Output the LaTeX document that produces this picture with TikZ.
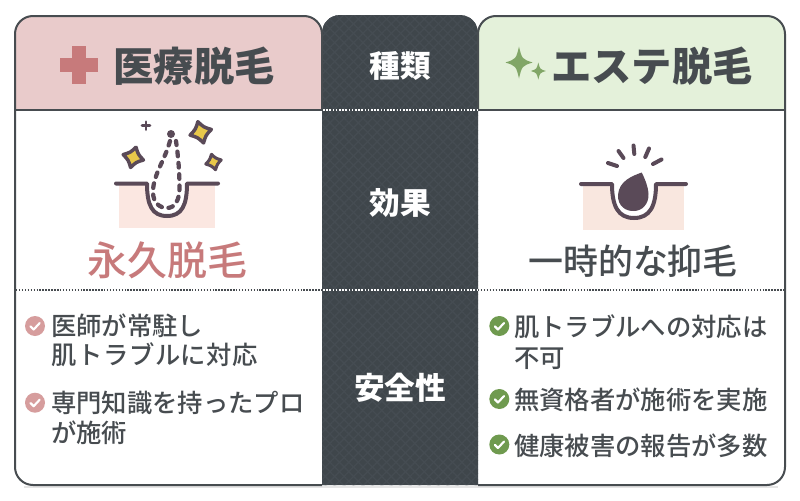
\documentclass[tikz,border=0pt]{standalone}
\usepackage{fontspec}
\setmainfont{Noto Sans CJK JP}
\newfontfamily\medf{Noto Sans CJK JP Medium}
\newfontfamily\medw[LetterSpace=2.4]{Noto Sans CJK JP Medium}
\usetikzlibrary{patterns.meta}
\definecolor{ink}{HTML}{474C50}
\definecolor{dark}{HTML}{3F464B}
\definecolor{darkl}{HTML}{454C52}
\definecolor{pinkbg}{HTML}{E9CBCB}
\definecolor{rose}{HTML}{C77A7B}
\definecolor{rosel}{HTML}{D69D9D}
\definecolor{greenbg}{HTML}{E4F1DA}
\definecolor{leaf}{HTML}{81A667}
\definecolor{okg}{HTML}{6F9A4F}
\definecolor{plum}{HTML}{5A4A58}
\definecolor{skin}{HTML}{FBE7E1}
\definecolor{skinr}{HTML}{F9E7DF}
\definecolor{gold}{HTML}{E8C84A}
\tikzset{
 body/.style={font=\fontsize{19}{20}\selectfont\medf,text=ink,anchor=base west,inner sep=0pt},
 side/.style={font=\fontsize{23}{24}\selectfont\bfseries,text=white,inner sep=0pt},
 head/.style={font=\fontsize{30.2}{31}\selectfont\bfseries,text=ink,inner sep=0pt},
 res/.style={inner sep=0pt},
 icon/.style={draw=plum,line width=3pt,line cap=round,line join=round},
 tick/.style={white,line width=1.6pt,line cap=round,line join=round},
 star/.style={draw=plum,line width=2.2pt,line join=round,fill=gold},
}
\newcommand{\sparkle}[5]{\path[#5] (#1,#2-#4) .. controls (#1+.22*#3,#2-.22*#4) .. (#1+#3,#2) .. controls (#1+.22*#3,#2+.22*#4) .. (#1,#2+#4) .. controls (#1-.22*#3,#2+.22*#4) .. (#1-#3,#2) .. controls (#1-.22*#3,#2-.22*#4) .. cycle;}
\newcommand{\fatstar}[2]{\path[#2] (0,-#1) .. controls (.38*#1,-.38*#1) .. (#1,0) .. controls (.38*#1,.38*#1) .. (0,#1) .. controls (-.38*#1,.38*#1) .. (-#1,0) .. controls (-.38*#1,-.38*#1) .. cycle;}
\newcommand{\tophat}[2]{(#1,109) -- (#1,34) arc[start angle=180,end angle=270,radius=18] -- (#2-18,16) arc[start angle=270,end angle=360,radius=18] -- (#2,109)}
\begin{document}
\begin{tikzpicture}[x=0.75pt,y=-0.75pt]
\useasboundingbox (0,0) rectangle (800,500);
% shadow
\draw[line width=1.5pt,color=black!10] (24,486.6) -- (778,486.6);
% panels
\fill[white] (15,109) -- (785,109) -- (785,467) arc[start angle=0,end angle=90,radius=18] -- (33,485) arc[start angle=90,end angle=180,radius=18] -- cycle;
\fill[pinkbg] \tophat{15}{322} -- cycle;
\fill[greenbg] \tophat{478}{785} -- cycle;
\def\midshape{(322,485) -- (322,33) arc[start angle=180,end angle=270,radius=18] -- (460,15) arc[start angle=270,end angle=360,radius=18] -- (478,485) -- cycle}
\path[fill=dark] \midshape;
\path[pattern={Lines[angle=45,distance=5pt,line width=1pt]},pattern color=darkl] \midshape;
\path[pattern={Lines[angle=-45,distance=5pt,line width=1pt]},pattern color=darkl] \midshape;
% outlines
\draw[ink,line width=1.5pt] (15,109) -- (15,467) arc[start angle=180,end angle=90,radius=18] -- (322,485);
\draw[ink,line width=1.5pt] \tophat{15}{322};
\draw[ink,line width=1.5pt] \tophat{478}{785};
\draw[ink,line width=1.5pt] (785,109) -- (785,467) arc[start angle=0,end angle=90,radius=18] -- (478,485);
\draw[ink,line width=1.5pt] (15,109.5) -- (322,109.5);
\draw[ink,line width=1.5pt] (478,109.5) -- (785,109.5);
% dotted rows
\draw[white,line width=1.2pt,dash pattern=on 1.2pt off 1.2pt] (323,110) -- (478,110);
\draw[white,line width=1.2pt,dash pattern=on 1.2pt off 1.2pt] (323,290) -- (478,290);
\draw[ink,line width=1pt,dash pattern=on 1.1pt off 1.1pt] (16,290) -- (322,290);
\draw[ink,line width=1pt,dash pattern=on 1.1pt off 1.1pt] (478,290) -- (785,290);
% header marks
\fill[rose] (72,46) rectangle (86,84);
\fill[rose] (60,58) rectangle (98,71.5);
\sparkle{519}{62.5}{13.5}{16}{fill=leaf}
\sparkle{538.3}{71}{7.5}{8.5}{fill=leaf}
% header text
\node[head,anchor=center] (tl) at (194,66) {医療脱毛};
\node[head,anchor=center] (tr) at (652,66) {エステ脱毛};
\node[side] (s1) at (400,66) {種類};
\node[side] (s2) at (400,203) {効果};
\node[side] (s3) at (400,388) {安全性};
% left icon
\fill[skin] (119,185) rectangle (215,228);
\fill[white] (149,184) .. controls (149,204) and (153,216) .. (167,216) .. controls (181,216) and (187,204) .. (187,184) -- cycle;
\path[icon] (116,183.5) -- (147,183.5) .. controls (147,205) and (152,216) .. (167,216) .. controls (182,216) and (187,205) .. (187,183.5) -- (218,183.5);
\fill[plum] (171,134) circle (4);
\path[icon,line width=3.2pt,line cap=round,dash pattern=on 3.5pt off 5pt] (170,141) .. controls (165,160) and (153,175) .. (153,192) .. controls (153,203) and (160,208) .. (167,208) .. controls (175,208) and (179.5,200) .. (179.5,188) .. controls (179.5,170) and (178,155) .. (176,141);
\begin{scope}[shift={(200.7,132.3)},rotate=15]\fatstar{11}{star,line width=2.6pt}\end{scope}
\begin{scope}[shift={(133.3,157.3)},rotate=-15]\fatstar{10.5}{star,line width=2.6pt}\end{scope}
\begin{scope}[shift={(213.5,162)},rotate=15]\fatstar{8}{star,line width=2.3pt}\end{scope}
\draw[plum,line width=2pt,line cap=round] (142,125.7) -- (150,125.7);
\draw[plum,line width=2pt,line cap=round] (146,121.7) -- (146,129.7);
\node[res,font=\fontsize{30}{31}\selectfont\medf,text=rose] (rl) at (167.3,260) {永久脱毛};
% right icon
\fill[skinr] (583.3,186) rectangle (684,230);
\fill[white] (613,184) .. controls (613,205) and (618,217) .. (634,217) .. controls (650,217) and (655,205) .. (655,184) -- cycle;
\path[icon] (581,184) -- (612,184) .. controls (612,206) and (618,218) .. (634,218) .. controls (650,218) and (656,206) .. (656,184) -- (686,184);
\fill[plum] (641.7,172.5) .. controls (632,176) and (619,181) .. (618,195) .. controls (617.5,206) and (626,211.5) .. (634,211) .. controls (642,211) and (649,204) .. (648.5,194) .. controls (648,186) and (645,179) .. (641.7,172.5) -- cycle;
\draw[plum,line width=3pt,line cap=round] (633.5,145.5) -- (634.3,154);
\draw[plum,line width=3pt,line cap=round] (618.5,151) -- (623.5,158);
\draw[plum,line width=3pt,line cap=round] (608,163) -- (617,166);
\draw[plum,line width=3pt,line cap=round] (649,148.5) -- (645.3,157);
\draw[plum,line width=3pt,line cap=round] (661.5,159.5) -- (653,164);
\node[res,font=\fontsize{26.2}{27}\selectfont\medf,text=ink] (rr) at (633,261) {一時的な抑毛};
% checks
\newcommand{\chk}[2]{\fill[#2] (#1) circle (10); \draw[tick] ([shift={(-4.5,0.3)}]#1) -- ([shift={(-1.3,3.5)}]#1) -- ([shift={(4.7,-3)}]#1);}
\chk{35,326}{rosel}
\chk{35,402.7}{rosel}
\chk{499.3,326}{okg}
\chk{499.3,399}{okg}
\chk{499.3,444.5}{okg}
% body text
\node[body] (a1) at (51,335) {医師が常駐し};
\node[body,font=\fontsize{19}{20}\selectfont\medw] (a2) at (51,364) {肌トラブルに対応};
\node[body] (a3) at (51,412) {専門知識を持ったプロ};
\node[body] (a4) at (51,442) {が施術};
\node[body] (b1) at (514,336) {肌トラブルへの対応は};
\node[body] (b2) at (514,367) {不可};
\node[body] (b3) at (514,409) {無資格者が施術を実施};
\node[body] (b4) at (514,455) {健康被害の報告が多数};
\end{tikzpicture}
\end{document}
